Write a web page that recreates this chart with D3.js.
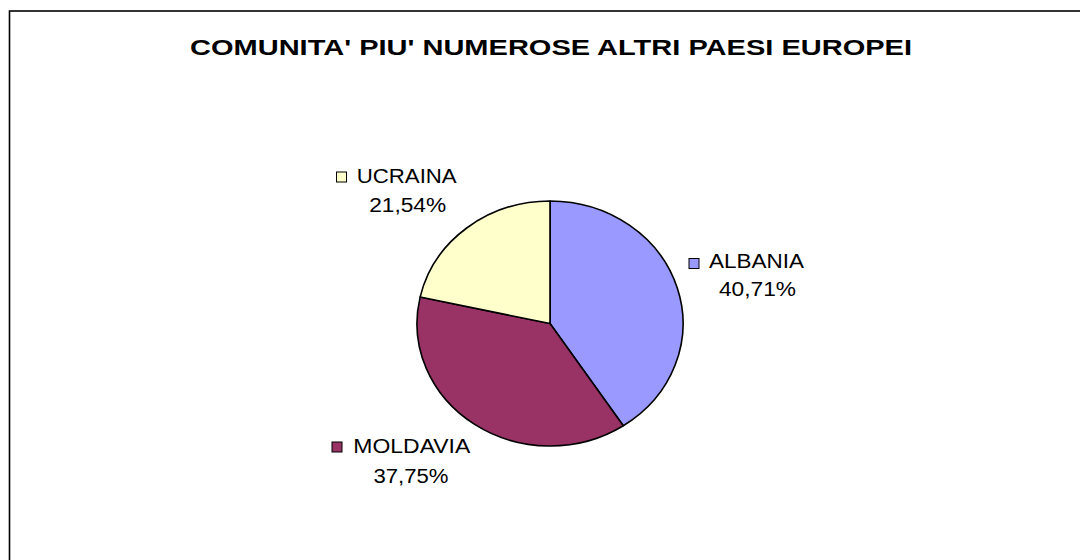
<!DOCTYPE html>
<html>
<head>
<meta charset="utf-8">
<script src="https://cdn.jsdelivr.net/npm/d3@7"></script>
<style>
html,body{margin:0;padding:0;background:#fff;}
svg{display:block;}
text{font-family:"Liberation Sans",Arial,sans-serif;fill:#000;}
</style>
</head>
<body>
<script>
const title = "COMUNITA' PIU' NUMEROSE ALTRI PAESI EUROPEI";
const categories = ["ALBANIA", "MOLDAVIA", "UCRAINA"];
const values = [40.71, 37.75, 21.54];
const valueLabels = ["40,71%", "37,75%", "21,54%"];
const colors = ["#9999FF", "#993366", "#FFFFCC"];

const W = 1080, H = 560;
const svg = d3.select("body").append("svg").attr("width", W).attr("height", H);

svg.append("rect").attr("x", 9.5).attr("y", 11).attr("width", 1200).attr("height", 700)
  .attr("fill", "#fff").attr("stroke", "#000").attr("stroke-width", 1.6);

svg.append("text").attr("x", 551).attr("y", 55).attr("text-anchor", "middle")
  .attr("font-size", 22.5).attr("font-weight", "bold")
  .attr("textLength", 722).attr("lengthAdjust", "spacingAndGlyphs")
  .text(title);

const cx = 550, cy = 323.5, rx = 133, ry = 122.5;
const pie = d3.pie().value(d => d).sort(null);
const arcs = pie(values);
const arc = d3.arc().innerRadius(0).outerRadius(rx);

const g = svg.append("g").attr("transform", `translate(${cx},${cy}) scale(1,${ry/rx})`);
g.selectAll("path").data(arcs).enter().append("path")
  .attr("d", arc)
  .attr("fill", (d, i) => colors[i])
  .attr("stroke", "#000")
  .attr("stroke-width", 1.6)
  .attr("stroke-linejoin", "round")
  .attr("vector-effect", "non-scaling-stroke");

// label layout (positions per category)
const labelPos = [
  {sq: [689, 258.5], name: [709, 268.3, 95], pct: [757.5, 296, 77]},
  {sq: [332, 442], name: [353.3, 453.3, 117], pct: [411, 482.7, 75]},
  {sq: [336.5, 172], name: [356.7, 183.3, 100], pct: [407.7, 211.7, 77]}
];
categories.forEach((c, i) => {
  const p = labelPos[i];
  svg.append("rect").attr("x", p.sq[0]).attr("y", p.sq[1]).attr("width", 10).attr("height", 10)
    .attr("fill", colors[i]).attr("stroke", "#000").attr("stroke-width", 1);
  svg.append("text").attr("x", p.name[0]).attr("y", p.name[1])
    .attr("font-size", 20).attr("textLength", p.name[2]).attr("lengthAdjust", "spacingAndGlyphs")
    .text(c);
  svg.append("text").attr("x", p.pct[0]).attr("y", p.pct[1]).attr("text-anchor", "middle")
    .attr("font-size", 20).attr("textLength", p.pct[2]).attr("lengthAdjust", "spacingAndGlyphs")
    .text(valueLabels[i]);
});
</script>
</body>
</html>
